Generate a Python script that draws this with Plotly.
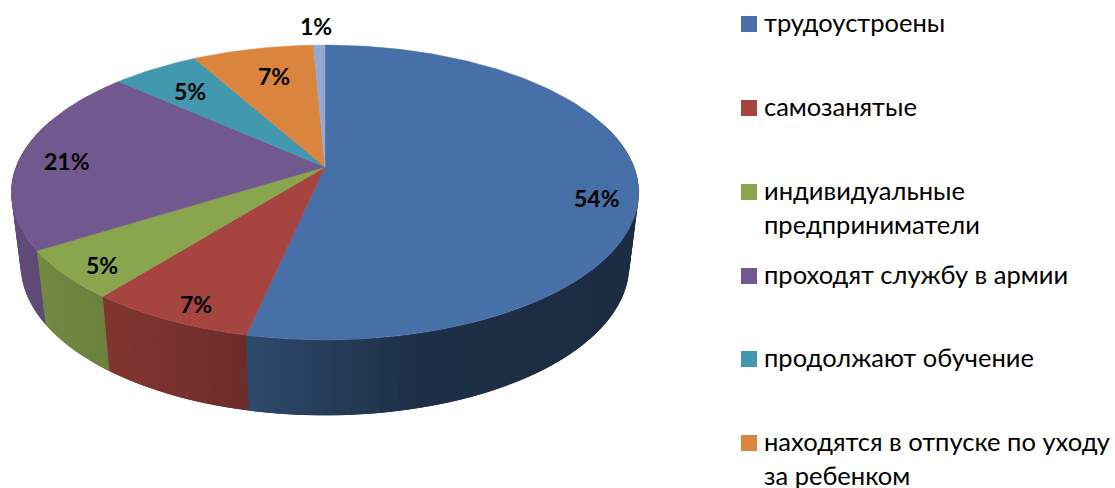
import numpy as np
import plotly.graph_objects as go

# --- data ---
values = [53.5, 7.3, 5.4, 20.6, 5.3, 7.4, 0.7]
colors = ["#4670A7", "#A64440", "#89A54E", "#71588F", "#4198AF", "#DB843D", "#93A9CF"]
legend_lines = [
    ["трудоустроены"],
    ["самозанятые"],
    ["индивидуальные", "предприниматели"],
    ["проходят службу в армии"],
    ["продолжают обучение"],
    ["находятся в отпуске по уходу", "за ребенком"],
]

# --- layout constants (pixel canvas) ---
W, H = 1115, 488
CX, TOP_Y = 325.0, 167.0
A, B, P = 143.0, 309.0, 0.173
BOT_Y, BOT_AS, BOT_BS = 239.0, 1.02, 0.97
label_pos = [(597, 198), (196, 304), (102, 265), (67, 161), (190, 91), (274, 76), (316, 26)]
legend_y = [24, 108, 192, 276, 359, 443]
LINE_GAP = 33.5
FONT = "Lato, Carlito, 'Open Sans', sans-serif"
LEG_SIZE = 25.5
LAB_SIZE = 23


def top(th):
    u, v = np.sin(th), np.cos(th)
    d = 1 + P * v
    return CX + B * u / d, TOP_Y - A * v / d


def bottom(th):
    u, v = np.sin(th), np.cos(th)
    d = 1 + P * v
    return CX + BOT_BS * B * u / d, BOT_Y - BOT_AS * A * v / d


def shade(x):
    return np.interp(x, [11, 105, 250, 420, 639], [0.85, 0.78, 0.65, 0.42, 0.40])


def rgb(hex_color, f=1.0):
    c = [int(hex_color[i:i + 2], 16) for i in (1, 3, 5)]
    return "rgb(%d,%d,%d)" % tuple(round(k * f) for k in c)


fractions = np.array(values) / sum(values)
edges = np.concatenate([[0], np.cumsum(fractions)]) * 2 * np.pi

fig = go.Figure()

# side wall, split into narrow overlapping strips to carry the horizontal shading
step = np.radians(1.5)
for i, col in enumerate(colors):
    a0, a1 = edges[i], edges[i + 1]
    n = max(1, int(np.ceil((a1 - a0) / step)))
    grid = np.linspace(a0, a1, n + 1)
    for t0, t1 in zip(grid[:-1], grid[1:]):
        tm = (t0 + t1) / 2
        if np.cos(tm) > 0.3:
            continue
        ts = np.linspace(t0, t1 + step, 4)
        xt, yt = top(ts)
        xb, yb = bottom(ts[::-1])
        c = rgb(col, float(shade(top(tm)[0])))
        fig.add_trace(go.Scatter(
            x=np.r_[xt, xb, xt[0]], y=np.r_[yt, yb, yt[0]], mode="lines", fill="toself",
            fillcolor=c, line=dict(color=c, width=0), hoverinfo="skip", showlegend=False))

# top face
for i, col in enumerate(colors):
    ts = np.linspace(edges[i], edges[i + 1], max(3, int((edges[i + 1] - edges[i]) / np.radians(1)) + 2))
    xs, ys = top(ts)
    fig.add_trace(go.Scatter(
        x=np.r_[CX, xs, CX], y=np.r_[TOP_Y, ys, TOP_Y], mode="lines", fill="toself",
        fillcolor=rgb(col), line=dict(color=rgb(col), width=0.5), hoverinfo="skip", showlegend=False))

# legend squares
fig.add_trace(go.Scatter(
    x=[749] * len(legend_lines), y=legend_y, mode="markers",
    marker=dict(symbol="square", size=16, color=colors[:len(legend_lines)], line=dict(width=0)),
    hoverinfo="skip", showlegend=False))

annotations = []
for v, (lx, ly) in zip(values, label_pos):
    annotations.append(dict(x=lx, y=ly, text="<b>%d%%</b>" % round(v), showarrow=False,
                            font=dict(family=FONT, size=LAB_SIZE, color="#000000"),
                            xanchor="center", yanchor="middle"))
for lines, ly in zip(legend_lines, legend_y):
    for k, line in enumerate(lines):
        annotations.append(dict(x=764, y=ly + k * LINE_GAP, text=line, showarrow=False,
                                font=dict(family=FONT, size=LEG_SIZE, color="#000000"),
                                xanchor="left", yanchor="middle", xshift=-2, yshift=2))

fig.update_layout(
    width=W, height=H, margin=dict(l=0, r=0, t=0, b=0),
    paper_bgcolor="white", plot_bgcolor="white", showlegend=False,
    xaxis=dict(range=[0, W], visible=False, fixedrange=True),
    yaxis=dict(range=[H, 0], visible=False, fixedrange=True),
    annotations=annotations,
)
fig.write_html("out.html", config=dict(displayModeBar=False),
               post_script="document.body.style.margin='0';document.body.style.overflow='hidden';")
